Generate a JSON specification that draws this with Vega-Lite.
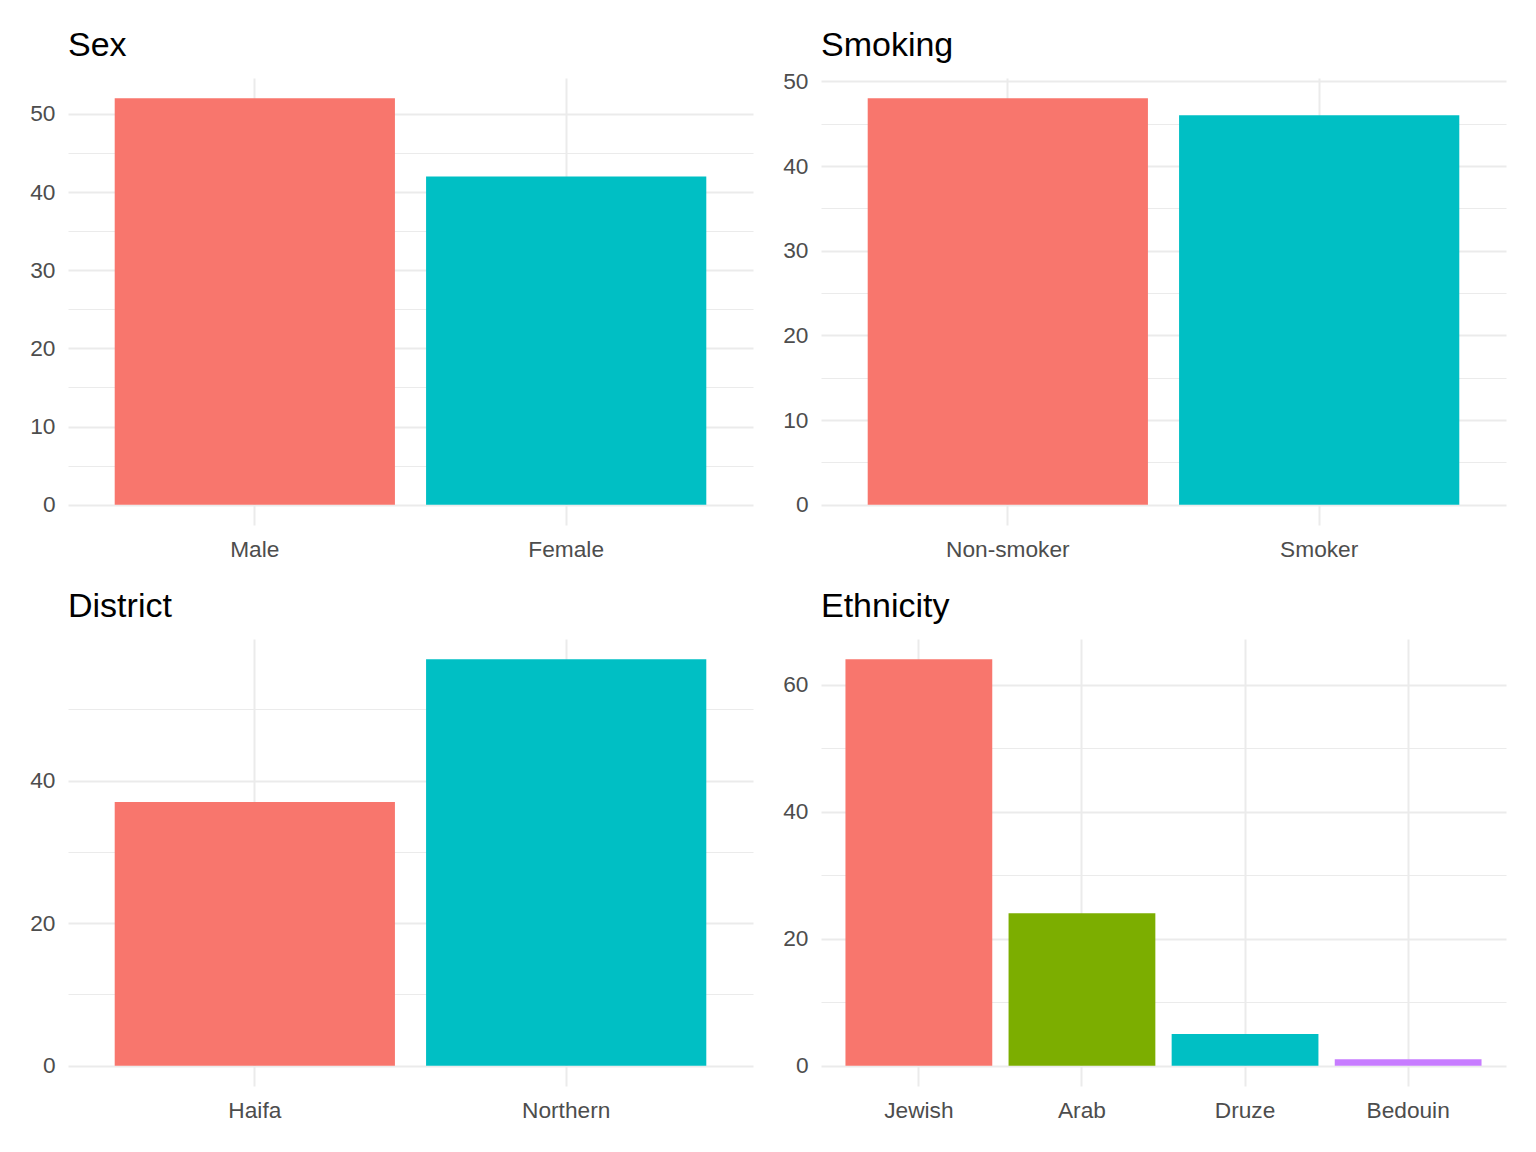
{
  "$schema": "https://vega.github.io/schema/vega-lite/v6.json",
  "background": "white",
  "padding": {"left": 29, "top": 29, "right": 5, "bottom": 5},
  "bounds": "flush",
  "spacing": {"row": 114, "column": 68},
  "columns": 2,
  "config": {
    "font": "Liberation Sans",
    "view": {"stroke": null},
    "axis": {
      "domain": false,
      "ticks": false,
      "tickSize": 0,
      "title": null,
      "labelFontSize": 22.7,
      "labelColor": "#4D4D4D",
      "gridColor": "#EBEBEB",
      "labelOverlap": false
    },
    "axisX": {"grid": true, "bandPosition": 0.5, "gridWidth": 2, "labelPadding": 13, "labelAngle": 0},
    "axisY": {"labelPadding": 13},
    "title": {
      "fontSize": 34,
      "fontWeight": "normal",
      "color": "black",
      "anchor": "start",
      "frame": "group",
      "baseline": "alphabetic",
      "offset": 15
    }
  },
  "resolve": {"scale": {"color": "independent", "x": "independent", "y": "independent"}},
  "concat": [
    {
      "title": "Sex",
      "width": 685,
      "height": 447,
      "data": {"values": [
        {"category": "Male", "count": 52},
        {"category": "Female", "count": 42}
      ]},
      "mark": "bar",
      "encoding": {
        "x": {"field": "category", "type": "nominal", "sort": null,
              "scale": {"paddingInner": 0.1, "paddingOuter": 0.15}},
        "y": {"field": "count", "type": "quantitative",
              "scale": {"domain": [-2.6, 54.6], "nice": false, "zero": false},
              "axis": {"values": [0, 5, 10, 15, 20, 25, 30, 35, 40, 45, 50],
                       "labelExpr": "datum.value % 10 === 0 ? datum.label : ''",
                       "gridWidth": {"condition": {"test": "datum.value % 10 === 0", "value": 2}, "value": 1}}},
        "color": {"field": "category", "type": "nominal", "legend": null,
                  "scale": {"domain": ["Male", "Female"], "range": ["#F8766D", "#00BFC4"]}}
      }
    },
    {
      "title": {"text": "Smoking", "offset": 7},
      "width": 685,
      "height": 447,
      "data": {"values": [
        {"category": "Non-smoker", "count": 48},
        {"category": "Smoker", "count": 46}
      ]},
      "mark": "bar",
      "encoding": {
        "x": {"field": "category", "type": "nominal", "sort": null,
              "scale": {"paddingInner": 0.1, "paddingOuter": 0.15}},
        "y": {"field": "count", "type": "quantitative",
              "scale": {"domain": [-2.4, 50.4], "nice": false, "zero": false},
              "axis": {"values": [0, 5, 10, 15, 20, 25, 30, 35, 40, 45, 50],
                       "labelExpr": "datum.value % 10 === 0 ? datum.label : ''",
                       "gridWidth": {"condition": {"test": "datum.value % 10 === 0", "value": 2}, "value": 1}}},
        "color": {"field": "category", "type": "nominal", "legend": null,
                  "scale": {"domain": ["Non-smoker", "Smoker"], "range": ["#F8766D", "#00BFC4"]}}
      }
    },
    {
      "title": "District",
      "width": 685,
      "height": 447,
      "data": {"values": [
        {"category": "Haifa", "count": 37},
        {"category": "Northern", "count": 57}
      ]},
      "mark": "bar",
      "encoding": {
        "x": {"field": "category", "type": "nominal", "sort": null,
              "scale": {"paddingInner": 0.1, "paddingOuter": 0.15}},
        "y": {"field": "count", "type": "quantitative",
              "scale": {"domain": [-2.85, 59.85], "nice": false, "zero": false},
              "axis": {"values": [0, 10, 20, 30, 40, 50],
                       "labelExpr": "datum.value % 20 === 0 ? datum.label : ''",
                       "gridWidth": {"condition": {"test": "datum.value % 20 === 0", "value": 2}, "value": 1}}},
        "color": {"field": "category", "type": "nominal", "legend": null,
                  "scale": {"domain": ["Haifa", "Northern"], "range": ["#F8766D", "#00BFC4"]}}
      }
    },
    {
      "title": "Ethnicity",
      "width": 685,
      "height": 447,
      "data": {"values": [
        {"category": "Jewish", "count": 64},
        {"category": "Arab", "count": 24},
        {"category": "Druze", "count": 5},
        {"category": "Bedouin", "count": 1}
      ]},
      "mark": "bar",
      "encoding": {
        "x": {"field": "category", "type": "nominal", "sort": null,
              "scale": {"paddingInner": 0.1, "paddingOuter": 0.15}},
        "y": {"field": "count", "type": "quantitative",
              "scale": {"domain": [-3.2, 67.2], "nice": false, "zero": false},
              "axis": {"values": [0, 10, 20, 30, 40, 50, 60],
                       "labelExpr": "datum.value % 20 === 0 ? datum.label : ''",
                       "gridWidth": {"condition": {"test": "datum.value % 20 === 0", "value": 2}, "value": 1}}},
        "color": {"field": "category", "type": "nominal", "legend": null,
                  "scale": {"domain": ["Jewish", "Arab", "Druze", "Bedouin"],
                            "range": ["#F8766D", "#7CAE00", "#00BFC4", "#C77CFF"]}}
      }
    }
  ]
}
